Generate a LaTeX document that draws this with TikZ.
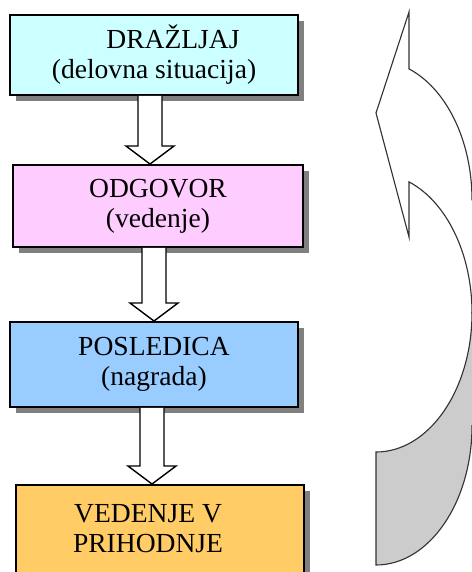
\documentclass[tikz,border=0pt]{standalone}
\usepackage{fontspec}
\setmainfont{Liberation Serif}
\usetikzlibrary{calc,shadows}
\definecolor{drazcol}{HTML}{CCFFFF}
\definecolor{odgcol}{HTML}{FFCCFF}
\definecolor{poscol}{HTML}{99CCFF}
\definecolor{vedcol}{HTML}{FFCC66}
\definecolor{shadowcol}{HTML}{808080}
\definecolor{backcol}{HTML}{CCCCCC}
% hollow arrow between two boxes: x, upper box, lower box
\newcommand{\blockarrow}[3]{%
\draw[arrowline] ($(#1,0 |- #2.south)+(-1.2,0)$) -- ($(#1,0 |- #3.north)+(-1.2,1.8)$) -- ++(-1.2,0) -- (#1,0 |- #3.north) -- ++(2.4,1.8) -- ++(-1.2,0) -- ($(#1,0 |- #2.south)+(1.2,0)$);}
\begin{document}
\begin{tikzpicture}[scale=0.25]
\tikzstyle{every node}+=[inner sep=0pt]
\tikzstyle{box}=[draw=black, line width=1.4pt, align=center, font=\fontsize{19.6}{21.3}\selectfont, drop shadow={shadow xshift=4.3pt, shadow yshift=-4.3pt, fill=shadowcol, opacity=1}]
\tikzstyle{arrowline}=[draw=black, line width=1pt, fill=white, line join=miter]
\tikzstyle{curvearrow}=[draw=black!80, line width=0.8pt]
\useasboundingbox (0,0) rectangle (47.1,-57.2);
\node [box, fill=drazcol, minimum width=7.2cm, minimum height=2cm] (drazljaj) at (15.4,-5.5) {\hspace*{27pt}DRAŽLJAJ\\(delovna situacija)};
\node [box, fill=odgcol, minimum width=7.25cm, minimum height=2.05cm] (odgovor) at (15.8,-20.6) {ODGOVOR\\(vedenje)};
\node [box, fill=poscol, minimum width=7.2cm, minimum height=2.125cm] (posledica) at (15.4,-36.45) {POSLEDICA\\(nagrada)};
\node [box, fill=vedcol, minimum width=7.2cm, minimum height=2.2cm] (vedenje) at (16,-52.9) {\hspace*{-17pt}VEDENJE V\\\hspace*{-17pt}PRIHODNJE};
\blockarrow{15}{drazljaj}{odgovor}
\blockarrow{15.4}{odgovor}{posledica}
\blockarrow{15.2}{posledica}{vedenje}
% curved arrow on the right
\draw [curvearrow, fill=backcol] (37.6,-45.2) arc [start angle=270, end angle=360, x radius=9.6, y radius=13.93] -- (48.5,-31.27) -- (48.5,-42.57) -- (47.2,-42.57) arc [start angle=0, end angle=-90, x radius=9.6, y radius=13.93] -- cycle;
\draw [curvearrow, fill=white] (40.9,-1.2) -- (40.9,-6.89) arc [start angle=69.89, end angle=0, x radius=9.6, y radius=13.93] -- (48.5,-19.97) -- (48.5,-31.27) -- (47.2,-31.27) arc [start angle=0, end angle=69.89, x radius=9.6, y radius=13.93] -- (40.9,-23.7) -- (37.6,-11.3) -- cycle;
\end{tikzpicture}
\end{document}
